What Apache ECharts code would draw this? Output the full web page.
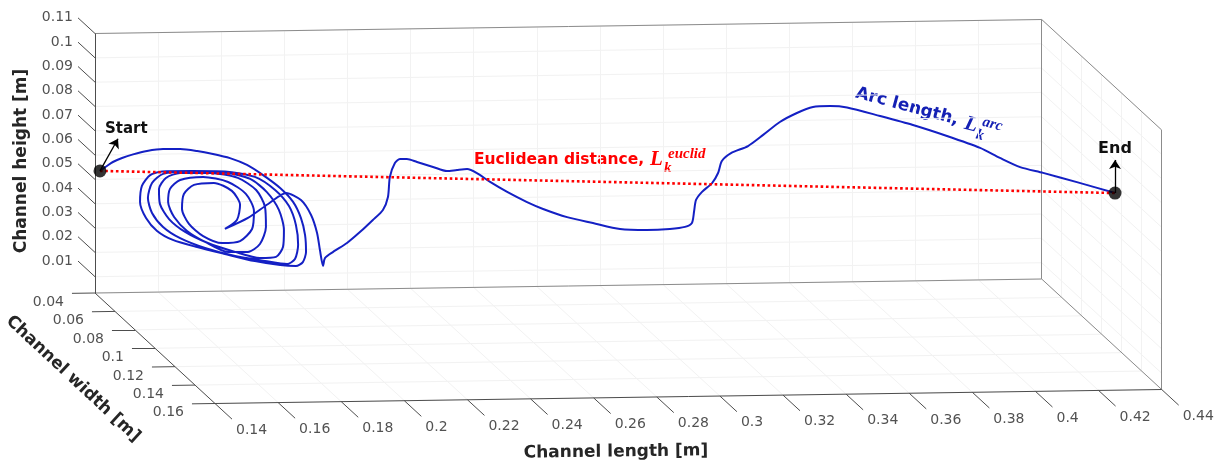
<!DOCTYPE html>
<html>
<head>
<meta charset="utf-8">
<script src="https://cdn.jsdelivr.net/npm/echarts@6/dist/echarts.min.js"></script>
<style>
  html, body { margin: 0; padding: 0; background: #ffffff; }
  #main { width: 1220px; height: 466px; }
</style>
</head>
<body>
<div id="main"></div>
<script>
// ---- Axis ticks and limits (metres) ----
const lengthTicks  = [0.14, 0.16, 0.18, 0.2, 0.22, 0.24, 0.26, 0.28, 0.3, 0.32, 0.34, 0.36, 0.38, 0.4, 0.42, 0.44];
const lengthLabels = ['0.14', '0.16', '0.18', '0.2', '0.22', '0.24', '0.26', '0.28', '0.3', '0.32', '0.34', '0.36', '0.38', '0.4', '0.42', '0.44'];
const widthTicks   = [0.04, 0.06, 0.08, 0.1, 0.12, 0.14, 0.16];
const widthLabels  = ['0.04', '0.06', '0.08', '0.1', '0.12', '0.14', '0.16'];
const heightTicks  = [0.01, 0.02, 0.03, 0.04, 0.05, 0.06, 0.07, 0.08, 0.09, 0.1, 0.11];
const heightLabels = ['0.01', '0.02', '0.03', '0.04', '0.05', '0.06', '0.07', '0.08', '0.09', '0.1', '0.11'];
const lengthRange  = [0.14, 0.44];
const widthRange   = [0.04, 0.16];
const heightRange  = [0.0033, 0.11];

// ---- Particle trajectory: channel length (x), width (y), height (z) ----
const pathLength = [
  0.1400, 0.1406, 0.1425, 0.1454, 0.1489, 0.1533, 0.1584, 0.1638, 0.1692, 0.1742,
  0.1796, 0.1850, 0.1901, 0.1955, 0.1996, 0.2021, 0.2034, 0.2037, 0.2027, 0.2005,
  0.1955, 0.1875, 0.1780, 0.1692, 0.1615, 0.1565, 0.1530, 0.1511, 0.1517, 0.1543,
  0.1581, 0.1676, 0.1780, 0.1875, 0.1939, 0.1983, 0.2005, 0.2012, 0.2002, 0.1977,
  0.1907, 0.1812, 0.1717, 0.1638, 0.1584, 0.1549, 0.1536, 0.1549, 0.1584, 0.1669,
  0.1780, 0.1860, 0.1913, 0.1951, 0.1967, 0.1964, 0.1942, 0.1891, 0.1812, 0.1726,
  0.1654, 0.1603, 0.1574, 0.1571, 0.1593, 0.1638, 0.1733, 0.1821, 0.1879, 0.1907,
  0.1910, 0.1891, 0.1853, 0.1790, 0.1717, 0.1660, 0.1619, 0.1600, 0.1606, 0.1638,
  0.1711, 0.1790, 0.1847, 0.1872, 0.1866, 0.1828, 0.1771, 0.1711, 0.1666, 0.1644,
  0.1650, 0.1682, 0.1745, 0.1802, 0.1828, 0.1818, 0.1780, 0.1853, 0.1917, 0.1974,
  0.2021, 0.2053, 0.2072, 0.2081, 0.2091, 0.2097, 0.2123, 0.2151, 0.2192, 0.2233,
  0.2249, 0.2265, 0.2271, 0.2287, 0.2303, 0.2325, 0.2357, 0.2392, 0.2436, 0.2468,
  0.2500, 0.2531, 0.2557, 0.2611, 0.2674, 0.2709, 0.2785, 0.2867, 0.2937, 0.3022,
  0.3095, 0.3127, 0.3149, 0.3156, 0.3162, 0.3181, 0.3197, 0.3216, 0.3228, 0.3257,
  0.3311, 0.3343, 0.3396, 0.3450, 0.3485, 0.3539, 0.3593, 0.3682, 0.3786, 0.3878,
  0.3983, 0.4030, 0.4094, 0.4151, 0.4258, 0.4363
];
const pathWidth = [
  0.045, 0.05, 0.05, 0.05, 0.05, 0.05, 0.05, 0.05, 0.05, 0.05,
  0.05, 0.05, 0.05, 0.05, 0.05, 0.05, 0.05, 0.05, 0.05, 0.05,
  0.05, 0.05, 0.05, 0.05, 0.05, 0.05, 0.05, 0.05, 0.05, 0.05,
  0.05, 0.05, 0.05, 0.05, 0.05, 0.05, 0.05, 0.05, 0.05, 0.05,
  0.05, 0.05, 0.05, 0.05, 0.05, 0.05, 0.05, 0.05, 0.05, 0.05,
  0.05, 0.05, 0.05, 0.05, 0.05, 0.05, 0.05, 0.05, 0.05, 0.05,
  0.05, 0.05, 0.05, 0.05, 0.05, 0.05, 0.05, 0.05, 0.05, 0.05,
  0.05, 0.05, 0.05, 0.05, 0.05, 0.05, 0.05, 0.05, 0.05, 0.05,
  0.05, 0.05, 0.05, 0.05, 0.05, 0.05, 0.05, 0.05, 0.05, 0.05,
  0.05, 0.05, 0.05, 0.05, 0.05, 0.05, 0.05, 0.05, 0.05, 0.05,
  0.05, 0.05, 0.05, 0.05, 0.05, 0.05, 0.05, 0.055, 0.055, 0.055,
  0.06, 0.06, 0.06, 0.06, 0.06, 0.06, 0.06, 0.065, 0.065, 0.065,
  0.065, 0.065, 0.07, 0.07, 0.07, 0.075, 0.075, 0.075, 0.08, 0.08,
  0.08, 0.085, 0.085, 0.085, 0.085, 0.085, 0.09, 0.09, 0.09, 0.09,
  0.09, 0.095, 0.095, 0.095, 0.1, 0.1, 0.1, 0.105, 0.105, 0.11,
  0.11, 0.115, 0.115, 0.12, 0.12, 0.125
];
const pathHeight = [
  0.0554, 0.0593, 0.0609, 0.0625, 0.0639, 0.0652, 0.0659, 0.0658, 0.0649, 0.0636,
  0.0618, 0.0589, 0.0546, 0.0492, 0.0434, 0.0367, 0.0297, 0.0227, 0.0186, 0.0170,
  0.0175, 0.0193, 0.0224, 0.0254, 0.0285, 0.0323, 0.0377, 0.0443, 0.0509, 0.0553,
  0.0567, 0.0567, 0.0563, 0.0539, 0.0484, 0.0417, 0.0339, 0.0257, 0.0199, 0.0179,
  0.0193, 0.0215, 0.0250, 0.0292, 0.0339, 0.0397, 0.0459, 0.0520, 0.0557, 0.0565,
  0.0559, 0.0531, 0.0476, 0.0402, 0.0319, 0.0249, 0.0209, 0.0205, 0.0232, 0.0270,
  0.0317, 0.0371, 0.0434, 0.0495, 0.0540, 0.0560, 0.0558, 0.0536, 0.0485, 0.0415,
  0.0332, 0.0263, 0.0231, 0.0232, 0.0275, 0.0321, 0.0379, 0.0441, 0.0495, 0.0531,
  0.0542, 0.0520, 0.0469, 0.0399, 0.0325, 0.0276, 0.0269, 0.0299, 0.0350, 0.0412,
  0.0473, 0.0510, 0.0517, 0.0483, 0.0425, 0.0363, 0.0327, 0.0371, 0.0427, 0.0471,
  0.0441, 0.0379, 0.0305, 0.0235, 0.0169, 0.0201, 0.0226, 0.0281, 0.0325, 0.0374,
  0.0434, 0.0487, 0.0569, 0.0626, 0.0642, 0.0642, 0.0629, 0.0627, 0.0609, 0.0613,
  0.0616, 0.0599, 0.0581, 0.0539, 0.0496, 0.0486, 0.0451, 0.0425, 0.0418, 0.0412,
  0.0415, 0.0442, 0.0458, 0.0507, 0.0552, 0.0585, 0.0640, 0.0681, 0.0730, 0.0762,
  0.0790, 0.0854, 0.0906, 0.0942, 0.0985, 0.0988, 0.0981, 0.0963, 0.0924, 0.0896,
  0.0845, 0.0822, 0.0783, 0.0777, 0.0737, 0.0709
];

// ---- Layout of the 3-D box on the page (orthographic view) ----
const BOX = {
  origin: [95, 293],      // pixel of (length min, width min, height min)
  ex: [946.7, -14],       // full length span
  ey: [120, 110.5],       // full width span
  ez: [0, -259.5]         // full height span
};
const TICK_W = 0.017;     // tick length expressed along the width axis
const TICK_L = 0.0073;    // tick length expressed along the length axis
const ARROW_START = [0.0057, 0, 0.0131];
const ARROW_END = [0, 0, 0.0136];

function project(x, y, z) {
  const u = (x - lengthRange[0]) / (lengthRange[1] - lengthRange[0]);
  const v = (y - widthRange[0]) / (widthRange[1] - widthRange[0]);
  const w = (z - heightRange[0]) / (heightRange[1] - heightRange[0]);
  return [
    BOX.origin[0] + u * BOX.ex[0] + v * BOX.ey[0] + w * BOX.ez[0],
    BOX.origin[1] + u * BOX.ex[1] + v * BOX.ey[1] + w * BOX.ez[1]
  ];
}
function seg(a, b) { return { coords: [project(a[0], a[1], a[2]), project(b[0], b[1], b[2])] }; }

const [X0, X1] = lengthRange, [Y0, Y1] = widthRange, [Z0, Z1] = heightRange;

// Faint grid on the back wall, the floor and the right wall
const gridSegs = [];
lengthTicks.forEach(x => {
  gridSegs.push(seg([x, Y0, Z0], [x, Y0, Z1]));
  gridSegs.push(seg([x, Y0, Z0], [x, Y1, Z0]));
});
heightTicks.forEach(z => {
  gridSegs.push(seg([X0, Y0, z], [X1, Y0, z]));
  gridSegs.push(seg([X1, Y0, z], [X1, Y1, z]));
});
widthTicks.forEach(y => {
  gridSegs.push(seg([X0, y, Z0], [X1, y, Z0]));
  gridSegs.push(seg([X1, y, Z0], [X1, y, Z1]));
});

// Box outline
const boxSegs = [
  seg([X0, Y0, Z1], [X1, Y0, Z1]),
  seg([X1, Y0, Z0], [X1, Y0, Z1]),
  seg([X1, Y0, Z1], [X1, Y1, Z1]),
  seg([X1, Y1, Z0], [X1, Y1, Z1]),
  seg([X0, Y0, Z0], [X1, Y0, Z0]),
  seg([X1, Y0, Z0], [X1, Y1, Z0])
];

// Axis lines and ticks
const axisSegs = [
  seg([X0, Y0, Z0], [X0, Y0, Z1]),
  seg([X0, Y0, Z0], [X0, Y1, Z0]),
  seg([X0, Y1, Z0], [X1, Y1, Z0])
];
heightTicks.forEach(z => axisSegs.push(seg([X0, Y0, z], [X0, Y0 - TICK_W, z])));
widthTicks.forEach(y => axisSegs.push(seg([X0, y, Z0], [X0 - TICK_L, y, Z0])));
lengthTicks.forEach(x => axisSegs.push(seg([x, Y1, Z0], [x, Y1 + TICK_W, Z0])));

const pathPts = pathLength.map((x, i) => project(x, pathWidth[i], pathHeight[i]));
const last = pathLength.length - 1;
const startP = [pathLength[0], pathWidth[0], pathHeight[0]];
const endP = [pathLength[last], pathWidth[last], pathHeight[last]];

const FONT = 'DejaVu Sans';
const tickLabel = { show: true, color: '#262626', fontSize: 14, fontFamily: FONT };

const chart = echarts.init(document.getElementById('main'), null, { renderer: 'canvas' });
chart.setOption({
  animation: false,
  backgroundColor: '#ffffff',
  grid: { left: 0, right: 0, top: 0, bottom: 0 },
  xAxis: { type: 'value', min: 0, max: 1220, show: false },
  yAxis: { type: 'value', min: 0, max: 466, inverse: true, show: false },
  series: [
    { type: 'lines', coordinateSystem: 'cartesian2d', silent: true, z: 1,
      lineStyle: { color: '#f2f2f2', width: 1, opacity: 1 }, data: gridSegs },
    { type: 'lines', coordinateSystem: 'cartesian2d', silent: true, z: 2,
      lineStyle: { color: '#8c8c8c', width: 1, opacity: 1 }, data: boxSegs },
    { type: 'lines', coordinateSystem: 'cartesian2d', silent: true, z: 3,
      lineStyle: { color: '#4d4d4d', width: 1, opacity: 1 }, data: axisSegs },
    { type: 'scatter', silent: true, symbolSize: 0, z: 3,
      data: heightTicks.map(z => project(X0, Y0 - TICK_W, z)),
      label: Object.assign({ position: 'left', distance: 5, formatter: p => heightLabels[p.dataIndex] }, tickLabel) },
    { type: 'scatter', silent: true, symbolSize: 0, z: 3,
      data: widthTicks.map(y => project(X0 - TICK_L, y, Z0)),
      label: Object.assign({ position: 'left', distance: 8, offset: [0, 9], formatter: p => widthLabels[p.dataIndex] }, tickLabel) },
    { type: 'scatter', silent: true, symbolSize: 0, z: 3,
      data: lengthTicks.map(x => project(x, Y1 + TICK_W, Z0)),
      label: Object.assign({ position: 'right', distance: 4, offset: [0, 11], formatter: p => lengthLabels[p.dataIndex] }, tickLabel) },
    { type: 'line', data: pathPts, showSymbol: false, smooth: 0.25, silent: true, z: 5,
      lineStyle: { color: '#1420c4', width: 2 } },
    { type: 'line', data: [project(...startP), project(...endP)], showSymbol: false, silent: true, z: 6,
      lineStyle: { color: '#ff0000', width: 2.6, type: [2.6, 2.7] } },
    { type: 'lines', coordinateSystem: 'cartesian2d', silent: true, z: 7,
      symbol: ['none', 'arrow'], symbolSize: 9,
      lineStyle: { color: '#000000', width: 1.3, opacity: 1 },
      data: [
        seg(startP, [startP[0] + ARROW_START[0], startP[1] + ARROW_START[1], startP[2] + ARROW_START[2]]),
        seg(endP, [endP[0] + ARROW_END[0], endP[1] + ARROW_END[1], endP[2] + ARROW_END[2]])
      ] },
    { type: 'scatter', silent: true, z: 8, symbolSize: 13,
      itemStyle: { color: '#000000' },
      data: [project(...startP), project(...endP)] }
  ],
  graphic: [
    { type: 'text', x: 22, y: 161, rotation: Math.PI / 2, z: 10,
      style: { text: 'Channel height [m]', fontFamily: FONT, fontWeight: 'bold', fontSize: 17, fill: '#262626', align: 'center', verticalAlign: 'middle' } },
    { type: 'text', x: 73, y: 379, rotation: -43 * Math.PI / 180, z: 10,
      style: { text: 'Channel width [m]', fontFamily: FONT, fontWeight: 'bold', fontSize: 17, fill: '#262626', align: 'center', verticalAlign: 'middle' } },
    { type: 'text', x: 616, y: 452, rotation: 0.012, z: 10,
      style: { text: 'Channel length [m]', fontFamily: FONT, fontWeight: 'bold', fontSize: 17, fill: '#262626', align: 'center', verticalAlign: 'middle' } },
    { type: 'text', x: 105, y: 129, z: 10,
      style: { text: 'Start', fontFamily: FONT, fontWeight: 'bold', fontSize: 15, fill: '#111111', align: 'left', verticalAlign: 'middle' } },
    { type: 'text', x: 1115, y: 149, z: 10,
      style: { text: 'End', fontFamily: FONT, fontWeight: 'bold', fontSize: 16, fill: '#111111', align: 'center', verticalAlign: 'middle' } },
    { type: 'group', x: 474, y: 160, z: 10, children: [
      { type: 'text', x: 0, y: 0,
        style: { text: 'Euclidean distance,', fontFamily: FONT, fontWeight: 'bold', fontSize: 15.5, fill: '#ff0000', align: 'left', verticalAlign: 'middle' } },
      { type: 'text', x: 176, y: 0,
        style: { text: 'L', fontFamily: 'Liberation Serif', fontStyle: 'italic', fontWeight: 'bold', fontSize: 21, fill: '#ff0000', align: 'left', verticalAlign: 'middle' } },
      { type: 'text', x: 194, y: -6,
        style: { text: 'euclid', fontFamily: 'Liberation Serif', fontStyle: 'italic', fontWeight: 'bold', fontSize: 15, fill: '#ff0000', align: 'left', verticalAlign: 'middle' } },
      { type: 'text', x: 190, y: 8,
        style: { text: 'k', fontFamily: 'Liberation Serif', fontStyle: 'italic', fontWeight: 'bold', fontSize: 15, fill: '#ff0000', align: 'left', verticalAlign: 'middle' } }
    ] },
    { type: 'group', x: 856, y: 93, rotation: -15 * Math.PI / 180, z: 10, children: [
      { type: 'text', x: 0, y: 0,
        style: { text: 'Arc length,', fontFamily: FONT, fontWeight: 'bold', fontSize: 17, fill: '#1420b4', align: 'left', verticalAlign: 'middle' } },
      { type: 'text', x: 113, y: 1,
        style: { text: 'L', fontFamily: 'Liberation Serif', fontStyle: 'italic', fontWeight: 'bold', fontSize: 21, fill: '#1420b4', align: 'left', verticalAlign: 'middle' } },
      { type: 'text', x: 130, y: -5,
        style: { text: 'arc', fontFamily: 'Liberation Serif', fontStyle: 'italic', fontWeight: 'bold', fontSize: 15, fill: '#1420b4', align: 'left', verticalAlign: 'middle' } },
      { type: 'text', x: 127, y: 9,
        style: { text: 'k', fontFamily: 'Liberation Serif', fontStyle: 'italic', fontWeight: 'bold', fontSize: 15, fill: '#1420b4', align: 'left', verticalAlign: 'middle' } }
    ] }
  ]
});
</script>
</body>
</html>
